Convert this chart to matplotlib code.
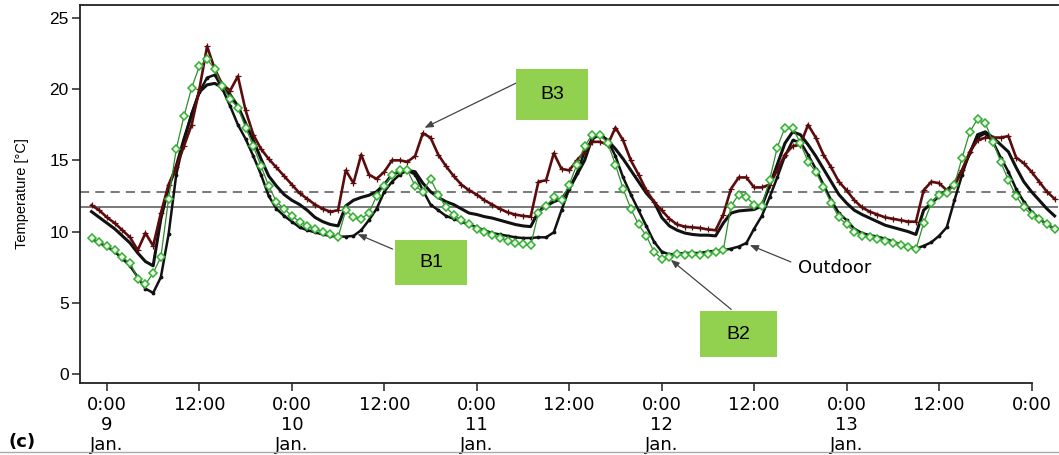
import numpy as np
import matplotlib
matplotlib.use("Agg")
import matplotlib.pyplot as plt
from matplotlib.patches import Rectangle
from matplotlib.lines import Line2D

# hourly readings, hour 0 = 0:00 on 9 Jan (first two values are hours -2 and -1)
hours = np.arange(-2, 124)

b3 = [11.85, 11.5,
      11.0, 10.6, 10.1, 9.6, 8.7, 9.9, 9.0, 11.3, 13.3, 14.5, 16.0, 17.5,
      20.0, 23.0, 21.4, 20.3, 19.9, 20.9, 18.5, 16.8, 15.8, 15.1, 14.5, 13.9,
      13.3, 12.7, 12.3, 11.9, 11.6, 11.4, 11.5, 14.3, 13.4, 15.4, 14.0, 13.7,
      14.2, 15.0, 15.0, 14.9, 15.3, 16.9, 16.6, 15.4, 14.6, 13.9, 13.3, 12.9,
      12.6, 12.2, 11.9, 11.6, 11.35, 11.2, 11.1, 11.05, 13.5, 13.6, 15.5, 14.4,
      14.3, 15.0, 15.6, 16.3, 16.3, 16.1, 17.3, 16.4, 15.0, 14.0, 12.9, 12.1,
      11.5, 10.9, 10.5, 10.35, 10.3, 10.25, 10.15, 10.1, 11.2, 13.0, 13.8, 13.8,
      13.1, 13.1, 13.3, 14.3, 15.4, 16.0, 16.1, 17.5, 16.6, 15.4, 14.5, 13.5,
      12.9, 12.2, 11.7, 11.4, 11.2, 11.0, 10.9, 10.8, 10.7, 10.7, 12.9, 13.5,
      13.4, 12.9, 13.2, 14.3, 15.6, 16.4, 16.6, 16.6, 16.6, 16.7, 15.2, 14.8,
      14.2, 13.5, 12.8, 12.3]

b1 = [11.4, 11.0,
      10.6, 10.2, 9.7, 9.2, 8.5, 7.9, 7.6, 10.9, 13.1, 14.6, 16.5, 18.2,
      19.8, 20.3, 20.4, 20.1, 19.6, 18.8, 17.6, 16.4, 15.1, 13.9, 13.2, 12.6,
      12.2, 11.9, 11.5, 11.0, 10.7, 10.5, 10.4, 11.8, 12.2, 12.4, 12.55, 12.8,
      13.3, 14.0, 14.2, 14.3, 14.2, 13.4, 12.8, 12.4, 12.1, 11.9, 11.6, 11.3,
      11.2, 11.05, 10.95, 10.8, 10.65, 10.5, 10.4, 10.35, 11.4, 11.8, 12.1, 12.3,
      13.0, 14.0, 15.0, 16.6, 16.8, 16.4, 15.8, 15.1, 14.3, 13.5, 12.7, 12.1,
      11.0, 10.4, 10.1, 9.9, 9.8, 9.75, 9.75, 9.7, 10.6, 11.3, 11.45, 11.5,
      11.55, 11.8, 13.2, 14.7, 16.2, 17.0, 16.8, 16.1, 15.3, 14.4, 13.5, 12.6,
      12.0, 11.5, 11.2, 10.95, 10.7, 10.45, 10.3, 10.15, 10.0, 9.8, 11.5, 12.0,
      12.5, 12.9, 13.4, 14.3, 15.5, 16.8, 17.0, 16.6, 16.1, 15.6, 14.5, 13.5,
      12.8, 12.2, 11.6, 11.1]

b2 = [9.55, 9.25,
      9.0, 8.7, 8.2, 7.8, 6.7, 6.3, 7.1, 8.2, 12.3, 15.8, 18.1, 20.1,
      21.6, 22.1, 21.4, 20.2, 19.3, 18.7, 17.3, 16.0, 14.6, 13.2, 12.1, 11.6,
      11.1, 10.7, 10.4, 10.2, 10.0, 9.8, 9.6, 11.5, 11.0, 10.9, 11.3, 12.5,
      13.2, 14.0, 14.3, 14.3, 13.2, 12.8, 13.7, 12.6, 11.7, 11.2, 10.8, 10.5,
      10.2, 10.0, 9.75, 9.55, 9.35, 9.2, 9.1, 9.05, 11.3, 11.8, 12.4, 12.2,
      13.3, 14.7, 16.0, 16.8, 16.8, 16.2, 14.7, 13.0, 11.6, 10.5, 9.7, 8.6,
      8.1, 8.2, 8.4, 8.35, 8.4, 8.35, 8.45, 8.55, 8.7, 11.8, 12.6, 12.4,
      11.9, 11.8, 13.6, 15.9, 17.3, 17.3, 16.2, 14.9, 14.2, 13.1, 12.0, 11.0,
      10.5, 10.0, 9.7, 9.6, 9.5, 9.35, 9.2, 9.05, 8.9, 8.75, 10.6, 12.0,
      12.6, 12.7, 13.3, 15.2, 17.0, 17.9, 17.6, 16.3, 14.9, 13.6, 12.5, 11.7,
      11.2, 10.9, 10.5, 10.2]

outdoor = [9.5, 9.2,
           8.95, 8.6, 8.1, 7.6, 6.8, 6.0, 5.7, 6.8, 9.8, 14.0, 16.4, 18.3,
           19.8, 20.8, 21.0, 20.0, 18.8, 17.5, 16.5, 15.3, 14.0, 12.5, 11.6, 11.1,
           10.7, 10.3, 10.1, 9.95, 9.8, 9.7, 9.65, 9.65, 9.7, 10.1, 10.8, 11.6,
           12.8, 13.5, 14.0, 14.3, 14.0, 12.9, 11.9, 11.5, 11.1, 10.9, 10.7, 10.5,
           10.3, 10.1, 9.9, 9.8, 9.7, 9.6, 9.55, 9.55, 9.6, 9.6, 9.95, 11.5,
           13.0, 14.1, 15.6, 16.5, 16.8, 16.4, 15.3, 13.8, 12.6, 11.5, 10.4, 9.3,
           8.6, 8.4, 8.45, 8.5, 8.5, 8.5, 8.6, 8.65, 8.7, 8.8, 8.95, 9.2,
           10.2, 11.1, 12.4, 13.8, 15.3, 16.4, 16.3, 15.4, 14.4, 13.3, 12.2, 11.3,
           10.8, 10.2, 9.9, 9.75, 9.65, 9.5, 9.3, 9.1, 8.95, 8.8, 9.0, 9.25,
           9.7, 10.3, 12.2, 14.0, 15.6, 16.6, 16.9, 16.3, 15.2, 14.2, 13.0, 12.1,
           11.4, 10.9, 10.5, 10.2]

limit_upper = 12.8   # dashed reference line
limit_lower = 11.75  # solid reference line

tick_hours = [0, 12, 24, 36, 48, 60, 72, 84, 96, 108, 120]
tick_labels = ["0:00\n9\nJan.", "12:00", "0:00\n10\nJan.", "12:00", "0:00\n11\nJan.",
               "12:00", "0:00\n12\nJan.", "12:00", "0:00\n13\nJan.", "12:00", "0:00"]

fig = plt.figure(figsize=(10.59, 4.55), dpi=100)
ax = fig.add_axes([0.0755, 0.158, 0.924, 0.831])

# reference lines
ax.axhline(limit_upper, color="#555555", lw=1.1, ls=(0, (6, 4)), zorder=1)
ax.axhline(limit_lower, color="#555555", lw=1.1, zorder=1)

# series
ax.plot(hours, outdoor, color="#111111", lw=1.8, marker=".", ms=3.5, zorder=2)
ax.plot(hours, b1, color="#111111", lw=2.2, zorder=3)
ax.plot(hours, b3, color="#5c0c0c", lw=1.9, marker="+", ms=4, mew=0.9, zorder=4)
ax.plot(hours, b2, color="#2f8f2f", lw=0.9, marker="D", ms=4, mfc="#eef8e8",
        mec="#33b033", mew=1.1, zorder=5)

ax.set_xlim(-3.5, 123.5)
ax.set_ylim(-0.63, 25.9)

ax.set_yticks([0, 5, 10, 15, 20, 25])
ax.set_xticks(tick_hours)
ax.set_xticklabels(tick_labels, family="DejaVu Sans", fontsize=13, linespacing=1.15)
for lab in ax.get_yticklabels():
    lab.set_family("Liberation Sans")
    lab.set_fontsize(12.5)
ax.tick_params(axis="both", direction="out", length=6, width=1.1, color="#222222")
ax.tick_params(axis="x", pad=3)
ax.tick_params(axis="y", pad=2)

for side in ["left", "bottom", "top"]:
    ax.spines[side].set_linewidth(1.3)
    ax.spines[side].set_color("#222222")
ax.spines["right"].set_visible(False)
ax.spines["bottom"].set_bounds(-3.5, 120)

ax.set_ylabel("Temperature [\u00b0C]", family="Liberation Sans", fontsize=10.5, labelpad=15)

# labelled boxes with arrows
boxes = [("B3", 53.1, 17.84, 9.35, 3.58, (53.4, 20.5), (40.9, 17.2)),
         ("B1", 37.4, 6.25, 9.35, 3.16, (37.4, 8.7), (32.2, 9.9)),
         ("B2", 77.0, 1.19, 10.0, 3.23, (81.3, 4.42), (72.9, 8.15))]
for name, x0, y0, w, h, tail, tip in boxes:
    ax.annotate("", xy=tip, xytext=tail,
                arrowprops=dict(arrowstyle="-|>,head_length=0.5,head_width=0.2",
                                color="#444444", lw=0.9), zorder=6)
    ax.add_patch(Rectangle((x0, y0), w, h, facecolor="#92d050", edgecolor="none",
                           zorder=7, clip_on=False))
    ax.text(x0 + w / 2, y0 + h / 2, name, ha="center", va="center",
            family="Liberation Sans", fontsize=14, zorder=8)

ax.annotate("", xy=(83.1, 9.13), xytext=(89.1, 7.8),
            arrowprops=dict(arrowstyle="-|>,head_length=0.5,head_width=0.2",
                            color="#444444", lw=0.9), zorder=6)
ax.text(89.7, 7.44, "Outdoor", ha="left", va="center", family="DejaVu Sans",
        fontsize=13, zorder=8)

fig.text(0.008, 0.018, "(c)", fontsize=13, fontweight="bold", family="DejaVu Sans")
fig.add_artist(Line2D([0, 1], [0.006, 0.006], color="#aaaaaa", lw=1))

fig.savefig("out.png", dpi=100)
